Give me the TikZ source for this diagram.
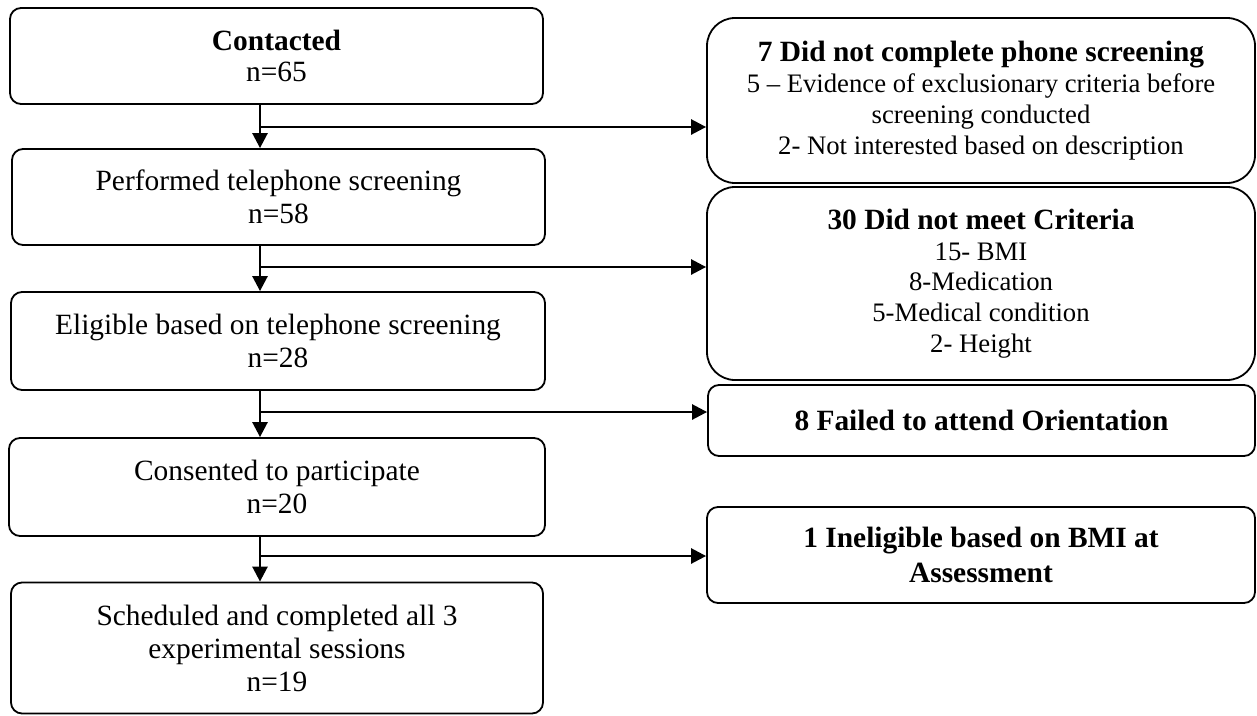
\documentclass[tikz,border=0pt]{standalone}
\usepackage{fontspec}
\setmainfont{Liberation Serif}
\usetikzlibrary{arrows.meta}
\newcommand{\bigb}[1]{{\fontsize{29.4}{31}\selectfont\bfseries #1}}
\begin{document}
\begin{tikzpicture}[x=1pt,y=-1pt,
  box/.style={draw=black, line width=1.8pt, rounded corners=11pt, align=center,
    inner sep=0pt, font=\fontsize{29.4}{33.5}\selectfont},
  bigbox/.style={box, rounded corners=28pt, font=\fontsize{26.7}{30.8}\selectfont},
  arr/.style={line width=2.6pt, -{Triangle[length=15pt,width=15pt]}}]
\useasboundingbox (0,0) rectangle (1257,715);
% left column
\node[box, minimum width=533pt, minimum height=96pt, font=\fontsize{29.4}{31}\selectfont] (b1) at (276.5,56) {\textbf{Contacted}\\n=65};
\node[box, minimum width=533pt, minimum height=96pt] (b2) at (278.5,197) {Performed telephone screening\\n=58};
\node[box, minimum width=534pt, minimum height=98pt] (b3) at (278,341) {Eligible based on telephone screening\\n=28};
\node[box, minimum width=536pt, minimum height=98pt] (b4) at (277,487) {Consented to participate\\n=20};
\node[box, minimum width=532pt, minimum height=131pt, font=\fontsize{29.4}{33}\selectfont] (b5) at (277,648) {Scheduled and completed all 3\\experimental sessions\\n=19};
% right column
\node[bigbox, minimum width=548pt, minimum height=165pt] (ra) at (981,100.5) {\bigb{7 Did not complete phone screening}\\5 -- Evidence of exclusionary criteria before\\screening conducted\\2- Not interested based on description};
\node[bigbox, minimum width=548pt, minimum height=193pt] (rb) at (981,283.5) {\bigb{30 Did not meet Criteria}\\15- BMI\\8-Medication\\5-Medical condition\\2- Height};
\node[box, minimum width=547pt, minimum height=71pt] (rc) at (981.5,420.5) {\textbf{8 Failed to attend Orientation}};
\node[box, minimum width=548pt, minimum height=96pt, font=\fontsize{29.4}{35}\selectfont] (rd) at (981,555) {\textbf{1 Ineligible based on BMI at}\\\textbf{Assessment}};
% junction points
\coordinate (x0) at (260,0);
\coordinate (j1) at (260,127);
\coordinate (j2) at (260,267);
\coordinate (j3) at (260,412);
\coordinate (j4) at (260,556);
% vertical arrows
\draw[arr] (b1.south -| x0) -- (b2.north -| x0);
\draw[arr] (b2.south -| x0) -- (b3.north -| x0);
\draw[arr] (b3.south -| x0) -- (b4.north -| x0);
\draw[arr] (b4.south -| x0) -- (b5.north -| x0);
% horizontal arrows
\draw[arr] (j1) -- (j1 -| ra.west);
\draw[arr] (j2) -- (j2 -| rb.west);
\draw[arr] (j3) -- (j3 -| rc.west);
\draw[arr] (j4) -- (j4 -| rd.west);
\end{tikzpicture}
\end{document}
